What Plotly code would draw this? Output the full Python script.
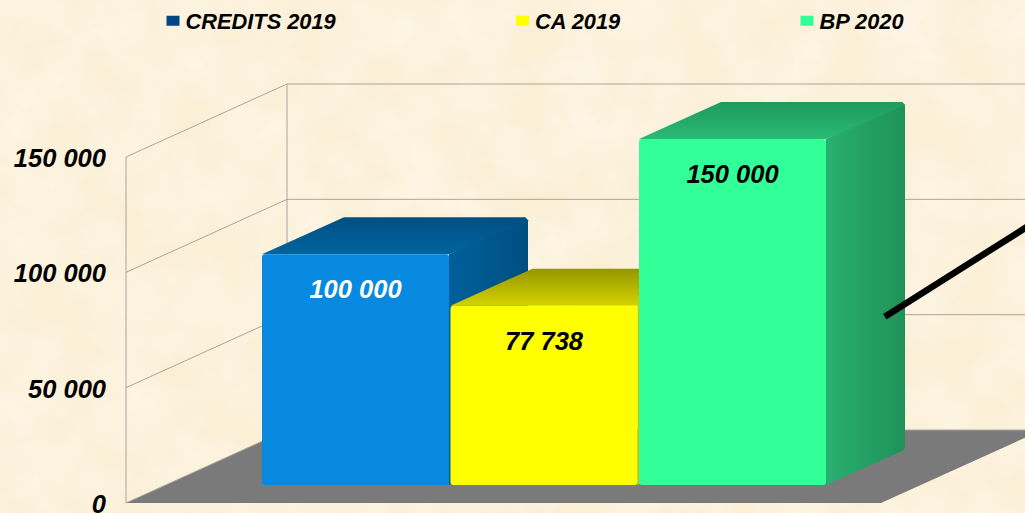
import base64
import plotly.graph_objects as go

series_names = ["CREDITS 2019", "CA 2019", "BP 2020"]
series_values = [100000, 77738, 150000]
value_labels = ["100 000", "77 738", "150 000"]
label_colors = ["#ffffff", "#000000", "#000000"]
tick_values = [0, 50000, 100000, 150000]
tick_labels = ["0", "50 000", "100 000", "150 000"]
trend_x = [2.808, 3.56]
trend_values = [80700, 119600]

legend_colors = ["#004586", "#ffff00", "#33ff99"]
front_colors = ["#0689de", "#ffff00", "#33ff99"]
top_colors = [("#004f82", "#00659f"), ("#969600", "#d2d200"), ("#1f9a5e", "#29ba74")]
side_colors = [("#005f9c", "#004f80"), ("#c4c400", "#8f8f00"), ("#29b070", "#1f9259")]

W, H = 1025, 513
LEFT = 107
PX_X = 188.5          # pixels per category
PX_V = 346 / 150000   # pixels per value unit
x_range = [(LEFT - 355.5) / PX_X, (W - 355.5) / PX_X]
y_range = [-(H - 503) / PX_V, 503 / PX_V]


def dx(px):
    return px / PX_X


def dv(px):
    return px / PX_V


bar_w = dx(187)
lift = dv(18)
depth_x, depth_v = dx(79), dv(37)
wall_x0 = (126 - 355.5) / PX_X
wall_dx, wall_dv = dx(161), dv(73)
floor_x1 = (881 - 355.5) / PX_X
cx, cv = dx(3), dv(3)

fig = go.Figure()

# floor
fig.add_trace(go.Scatter(
    x=[wall_x0, floor_x1, floor_x1 + wall_dx, wall_x0 + wall_dx, wall_x0],
    y=[0, 0, wall_dv, wall_dv, 0],
    mode="lines", fill="toself", fillcolor="#7a7a7a", line=dict(width=0),
    showlegend=False, hoverinfo="skip"))

# walls
GRID = "#aaa59c"
for v in tick_values:
    fig.add_trace(go.Scatter(
        x=[wall_x0, wall_x0 + wall_dx, x_range[1]],
        y=[v, v + wall_dv, v + wall_dv],
        mode="lines", line=dict(color=GRID, width=1),
        showlegend=False, hoverinfo="skip"))
for xx, off in ((wall_x0, 0), (wall_x0 + wall_dx, wall_dv)):
    fig.add_trace(go.Scatter(
        x=[xx, xx], y=[off, tick_values[-1] + off],
        mode="lines", line=dict(color=GRID, width=1),
        showlegend=False, hoverinfo="skip"))

# 3-D faces
for i, v in enumerate(series_values):
    x0, x1 = i - bar_w / 2, i + bar_w / 2
    b, t = lift, lift + v
    fig.add_trace(go.Scatter(
        x=[x1, x1 + depth_x - cx, x1 + depth_x, x1 + depth_x, x1 + depth_x - cx, x1, x1],
        y=[b, b + depth_v - cv, b + depth_v, t + depth_v - cv, t + depth_v, t, b],
        mode="lines", fill="toself", line=dict(width=0),
        fillgradient=dict(type="horizontal", colorscale=[[0, side_colors[i][0]], [1, side_colors[i][1]]]),
        showlegend=False, hoverinfo="skip"))
    fig.add_trace(go.Scatter(
        x=[x0, x1, x1 + depth_x, x1 + depth_x - cx, x0 + depth_x + cx, x0],
        y=[t, t, t + depth_v - cv, t + depth_v, t + depth_v, t],
        mode="lines", fill="toself", line=dict(width=0),
        fillgradient=dict(type="vertical", colorscale=[[0, top_colors[i][1]], [1, top_colors[i][0]]]),
        showlegend=False, hoverinfo="skip"))

# bar fronts
fig.add_trace(go.Bar(
    x=[0, 1, 2], y=series_values, base=[lift] * 3, width=bar_w,
    marker=dict(color=front_colors, line=dict(width=0), cornerradius=3),
    xaxis="x2", yaxis="y2", showlegend=False, hoverinfo="skip"))

# value labels
fig.add_trace(go.Scatter(
    x=[0, 1, 2], y=[v + lift - dv(37.5) for v in series_values],
    mode="text", text=value_labels, textposition="middle center",
    textfont=dict(family="Liberation Sans", size=25.5, style="italic", weight=700, color=label_colors),
    xaxis="x2", yaxis="y2", showlegend=False, hoverinfo="skip"))

# trend line
fig.add_trace(go.Scatter(
    x=trend_x, y=trend_values, mode="lines", line=dict(color="#000000", width=6.5),
    xaxis="x2", yaxis="y2", showlegend=False, hoverinfo="skip"))

# legends: dashed key line so the 13 px swatch sits close to its text
leg_font = dict(family="Liberation Sans", size=21.8, style="italic", weight=700, color="#000000")
text_px = [186.5, 536, 820.5]
for i, name in enumerate(series_names):
    key = "legend" if i == 0 else f"legend{i + 1}"
    fig.add_trace(go.Scatter(
        x=[None], y=[None], mode="lines", name=name,
        line=dict(color=legend_colors[i], width=13, dash="0px,16px,13px,100px"),
        legend=key, hoverinfo="skip"))
    fig.update_layout({key: dict(
        x=(text_px[i] - 41 - LEFT) / (W - LEFT), y=(H - 21) / H,
        xanchor="left", yanchor="middle", bgcolor="rgba(0,0,0,0)",
        font=leg_font, itemwidth=30)})

texture = f"""<svg xmlns='http://www.w3.org/2000/svg' width='{W}' height='{H}'>
<filter id='p' x='0' y='0' width='100%' height='100%'>
<feTurbulence type='fractalNoise' baseFrequency='0.018' numOctaves='4' seed='7'/>
<feColorMatrix type='matrix' values='0 0 0 0 1  0 0 0 0 0.96  0 0 0 0 0.88  0.9 0 0 0 -0.25'/>
</filter>
<rect width='100%' height='100%' fill='#fbefd6'/>
<rect width='100%' height='100%' filter='url(#p)'/>
</svg>"""
src = "data:image/svg+xml;base64," + base64.b64encode(texture.encode()).decode()

fig.update_layout(
    width=W, height=H,
    margin=dict(l=LEFT, r=0, t=0, b=0, autoexpand=False),
    paper_bgcolor="#fbefd6", plot_bgcolor="rgba(0,0,0,0)",
    showlegend=True,
    images=[dict(source=src, xref="paper", yref="paper", x=-LEFT / (W - LEFT), y=1,
                 sizex=W / (W - LEFT), sizey=1, xanchor="left", yanchor="top",
                 sizing="stretch", layer="below")],
    xaxis=dict(range=x_range, visible=False, fixedrange=True),
    xaxis2=dict(range=x_range, visible=False, overlaying="x", fixedrange=True),
    yaxis=dict(range=y_range, tickmode="array", tickvals=tick_values, ticktext=tick_labels,
               showgrid=False, zeroline=False, showline=False, ticks="", ticklen=0,
               ticklabeloverflow="allow", ticklabelshift=1,
               tickfont=dict(family="Liberation Sans", size=25.5, style="italic", weight=700, color="#000000"),
               fixedrange=True),
    yaxis2=dict(range=y_range, visible=False, overlaying="y", fixedrange=True),
)

fig.write_html("out.html", config=dict(displayModeBar=False),
               post_script="document.body.style.margin='0';document.documentElement.style.overflow='hidden';")
